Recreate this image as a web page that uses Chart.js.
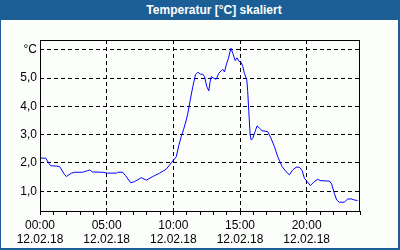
<!DOCTYPE html>
<html lang="de">
  <head>
    <meta charset="UTF-8" />
    <title>Temperatur [°C] skaliert</title>
    <script src="https://cdn.jsdelivr.net/npm/chart.js@4.4.1/dist/chart.umd.min.js"></script>
    <style>
      body {
        margin: 0;
        font-family: "Liberation Sans", Arial, sans-serif;
      }
      #frame {
        position: absolute;
        left: 0;
        top: 0;
        width: 400px;
        height: 250px;
        background-color: #1c5f96;
      }
      #inner {
        position: absolute;
        left: 1px;
        top: 20px;
        width: 397px;
        height: 228px;
        background-color: #fcfefc;
      }
      #title {
        position: absolute;
        left: 114px;
        top: 3px;
        width: 200px;
        text-align: center;
        color: #ffffff;
        font-weight: bold;
        font-size: 12px;
      }
      canvas {
        position: absolute;
        left: 0;
        top: 0;
      }
    </style>
  </head>
  <body>
    <div id="frame">
      <div id="inner"></div>
      <div id="title">Temperatur [°C] skaliert</div>
    </div>
    <canvas id="tempChart" width="400" height="250"></canvas>

    <script>
      // hours since 00:00 on 12.02.18
      const hours = [
        0.0, 0.43, 0.67, 0.8, 1.25, 1.48, 1.85, 1.98, 2.35, 2.6, 3.2, 3.57,
        3.72, 3.95, 4.7, 5.07, 5.75, 5.82, 6.2, 6.42, 6.8, 7.09, 7.6, 7.97,
        8.46, 8.97, 9.47, 9.84, 10.22, 10.41, 10.59, 10.76, 10.97, 11.09,
        11.27, 11.46, 11.66, 11.84, 12.04, 12.21, 12.34, 12.51, 12.66, 12.76,
        12.84, 13.03, 13.21, 13.41, 13.59, 13.71, 13.84, 13.96, 14.13, 14.32,
        14.46, 14.64, 14.77, 14.91, 15.09, 15.21, 15.33, 15.51, 15.58, 15.66,
        15.76, 15.84, 15.96, 16.13, 16.28, 16.46, 16.66, 17.08, 17.33, 17.58,
        17.83, 18.16, 18.46, 18.7, 18.95, 19.21, 19.45, 19.66, 19.83, 20.07,
        20.28, 20.57, 20.82, 21.08, 21.7, 21.87, 22.07, 22.25, 22.45, 22.82,
        23.07, 23.33, 23.57, 23.82,
      ];
      const temps = [
        2.17, 2.17, 1.98, 1.9, 1.89, 1.87, 1.58, 1.52, 1.64, 1.67, 1.67, 1.73,
        1.75, 1.68, 1.67, 1.64, 1.64, 1.67, 1.67, 1.55, 1.3, 1.34, 1.48, 1.39,
        1.52, 1.64, 1.78, 2.0, 2.22, 2.62, 2.93, 3.17, 3.52, 3.76, 4.23, 4.7,
        5.12, 5.21, 5.14, 5.14, 5.05, 4.7, 4.55, 4.88, 5.05, 5.0, 4.96, 5.17,
        5.26, 5.31, 5.22, 5.46, 5.7, 6.06, 5.88, 5.62, 5.72, 5.6, 5.56, 5.41,
        5.17, 4.94, 4.52, 3.82, 3.0, 2.81, 2.87, 3.11, 3.31, 3.23, 3.14, 3.11,
        2.87, 2.58, 2.22, 1.87, 1.69, 1.58, 1.75, 1.85, 1.85, 1.73, 1.46, 1.32,
        1.2, 1.34, 1.42, 1.37, 1.36, 1.26, 0.93, 0.69, 0.61, 0.61, 0.72, 0.73,
        0.69, 0.67,
      ];
      const dateLabel = "12.02.18";
      const yUnit = "°C";

      const points = hours.map((h, i) => ({ x: h, y: temps[i] }));

      // solid frame round the plot area
      const frameBox = {
        id: "frameBox",
        afterDraw(chart) {
          const { ctx, chartArea: a } = chart;
          ctx.save();
          ctx.setLineDash([]);
          ctx.strokeStyle = "#000000";
          ctx.lineWidth = 1;
          ctx.strokeRect(a.left + 0.5, a.top + 0.5, a.width - 1, a.height);
          ctx.restore();
        },
      };

      const font = { family: "'Liberation Sans', Arial, sans-serif", size: 12 };

      new Chart(document.getElementById("tempChart"), {
        type: "line",
        data: {
          datasets: [
            {
              data: points,
              borderColor: "#0000ff",
              borderWidth: 1,
              pointRadius: 0,
              tension: 0,
              fill: false,
            },
          ],
        },
        options: {
          responsive: false,
          animation: false,
          devicePixelRatio: 1,
          layout: { padding: { top: 40, right: 40, left: 0, bottom: 0 } },
          plugins: {
            legend: { display: false },
            tooltip: { enabled: false },
          },
          scales: {
            x: {
              type: "linear",
              min: 0,
              max: 24,
              afterFit: (scale) => {
                scale.height = 39;
              },
              border: { display: false, dash: [4, 3] },
              grid: {
                color: (c) => (c.tick && c.tick.value % 5 === 0 ? "#000000" : "rgba(0,0,0,0)"),
                tickColor: "#000000",
                tickLength: 4,
                tickBorderDash: [],
              },
              ticks: {
                stepSize: 1,
                autoSkip: false,
                maxRotation: 0,
                padding: 3,
                color: "#000000",
                font: font,
                callback: (v) => {
                  if (v % 5 !== 0) return "";
                  const hh = String(v).padStart(2, "0");
                  return [hh + ":00", dateLabel];
                },
              },
            },
            y: {
              min: 0.3,
              max: 6.35,
              afterFit: (scale) => {
                scale.width = 40;
              },
              border: { display: false, dash: [4, 3] },
              grid: { color: "#000000", drawTicks: false },
              ticks: {
                stepSize: 1,
                includeBounds: false,
                padding: 3,
                color: "#000000",
                font: font,
                callback: (v) => (v === 6 ? yUnit : v.toFixed(1).replace(".", ",")),
              },
            },
          },
        },
        plugins: [frameBox],
      });
    </script>
  </body>
</html>
